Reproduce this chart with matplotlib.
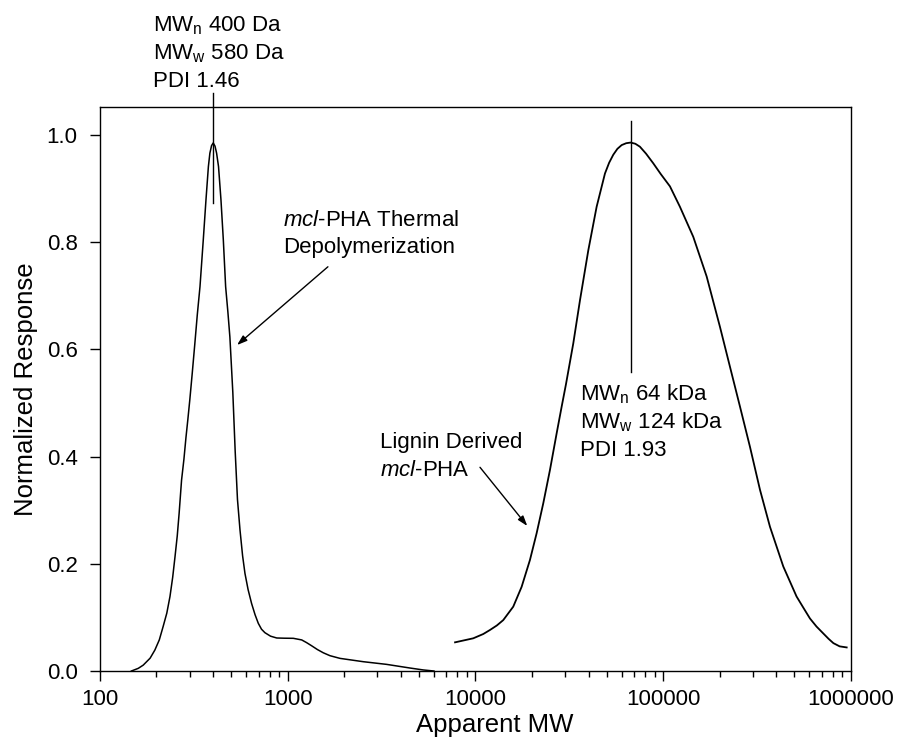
import matplotlib
matplotlib.use("Agg")
import matplotlib.pyplot as plt
from matplotlib.ticker import FixedLocator, LogLocator, NullFormatter, FuncFormatter

plt.rcParams['font.family'] = ['Liberation Sans', 'DejaVu Sans']
plt.rcParams['mathtext.fontset'] = 'custom'
plt.rcParams['mathtext.rm'] = 'Liberation Sans'
plt.rcParams['mathtext.it'] = 'Liberation Sans:italic'
plt.rcParams['mathtext.bf'] = 'Liberation Sans:bold'

# thermal depolymerization product (low MW peak)
depoly_mw = [147, 160, 170, 185, 196, 207, 217, 227, 236, 244, 251, 258, 264, 272,
             280, 287, 294, 301, 310, 320, 330, 341, 355, 367, 378, 385, 393, 401,
             410, 418, 428, 441, 454, 467, 480, 492, 510, 525, 540, 557, 575, 592,
             615, 642, 670, 697, 725, 756, 810, 874, 960, 1071, 1187, 1260, 1342,
             1440, 1547, 1679, 1898, 2524, 3362, 4477, 5270, 6010]
depoly_resp = [0.0, 0.005, 0.011, 0.024, 0.039, 0.058, 0.083, 0.108, 0.139, 0.175,
               0.213, 0.252, 0.294, 0.356, 0.395, 0.435, 0.47, 0.506, 0.555, 0.61,
               0.665, 0.717, 0.804, 0.879, 0.941, 0.966, 0.98, 0.985, 0.979, 0.966,
               0.941, 0.879, 0.804, 0.717, 0.67, 0.623, 0.52, 0.41, 0.32, 0.263,
               0.215, 0.182, 0.152, 0.126, 0.105, 0.089, 0.078, 0.0715, 0.065, 0.0616,
               0.0612, 0.061, 0.058, 0.053, 0.047, 0.040, 0.034, 0.0286, 0.0236,
               0.0174, 0.0124, 0.0056, 0.002, 0.0]

# lignin derived mcl-PHA (high MW peak)
lignin_mw = [7785, 9730, 11000, 11940, 13000, 14060, 15890, 17610, 19500, 21170,
             22970, 24930, 27050, 28770, 30340, 33180, 36040, 39910, 44190, 48940,
             51500, 54190, 57000, 60060, 63500, 67000, 71000, 75120, 81000, 88500,
             97000, 108600, 122700, 144500, 170300, 200500, 226500, 256400, 289800,
             327600, 370300, 435900, 513000, 560000, 604600, 655000, 712300, 760000,
             805800, 870000, 948600]
lignin_resp = [0.0535, 0.061, 0.069, 0.0765, 0.085, 0.095, 0.12, 0.157, 0.207, 0.257,
               0.313, 0.375, 0.443, 0.493, 0.535, 0.611, 0.692, 0.785, 0.866, 0.928,
               0.948, 0.963, 0.974, 0.981, 0.9845, 0.9857, 0.9835, 0.978, 0.965, 0.947,
               0.927, 0.904, 0.866, 0.810, 0.736, 0.642, 0.568, 0.493, 0.418,
               0.338, 0.269, 0.195, 0.139, 0.117, 0.098, 0.083, 0.070, 0.060,
               0.052, 0.046, 0.044]

# peak marker lines
marker_x = [400, 67000]
marker_ymin = [0.873, 0.558]
marker_ymax = [1.078, 1.025]

x_ticks = [100, 1000, 10000, 100000, 1000000]
y_ticks = [0.0, 0.2, 0.4, 0.6, 0.8, 1.0]

fig = plt.figure(figsize=(9.03, 7.51), dpi=100)
ax = fig.add_axes([0.1107, 0.1065, 0.8317, 0.751])

ax.plot(depoly_mw, depoly_resp, color='black', lw=1.1)
ax.plot(lignin_mw, lignin_resp, color='black', lw=1.3)
for mx, y0, y1 in zip(marker_x, marker_ymin, marker_ymax):
    ax.plot([mx, mx], [y0, y1], color='black', lw=1.0, clip_on=False)

ax.set_xscale('log')
ax.set_xlim(100, 1000000)
ax.set_ylim(0, 1.052)
ax.xaxis.set_major_locator(FixedLocator(x_ticks))
ax.xaxis.set_major_formatter(FuncFormatter(lambda v, p: '%d' % v))
ax.xaxis.set_minor_locator(LogLocator(base=10, subs=range(2, 10)))
ax.xaxis.set_minor_formatter(NullFormatter())
ax.set_yticks(y_ticks)
ax.yaxis.set_major_formatter(FuncFormatter(lambda v, p: '%.1f' % v))

ax.tick_params(axis='both', which='major', direction='out', length=7, width=1,
               labelsize=16, color='black')
ax.tick_params(axis='x', which='major', pad=6)
ax.tick_params(axis='y', which='major', pad=9)
ax.tick_params(axis='x', which='minor', direction='out', length=4, width=1)
ax.tick_params(axis='y', which='minor', left=False)
for sp in ax.spines.values():
    sp.set_linewidth(1.0)

ax.set_xlabel('Apparent MW', fontsize=18.5, labelpad=6)
ax.set_ylabel('Normalized Response', fontsize=18.5, labelpad=6)
ax.xaxis.set_label_coords(0.525, -0.075)

fs = 16
step = 0.0522
left_lines = [r'MW$_\mathrm{n}$ 400 Da', r'MW$_\mathrm{w}$ 580 Da', 'PDI 1.46']
for i, s in enumerate(left_lines):
    ax.text(191, 1.193 - i * step, s, fontsize=fs, va='baseline', ha='left', clip_on=False)

right_lines = [r'MW$_\mathrm{n}$ 64 kDa', r'MW$_\mathrm{w}$ 124 kDa', 'PDI 1.93']
for i, s in enumerate(right_lines):
    ax.text(36060, 0.5056 - i * step, s, fontsize=fs, va='baseline', ha='left')

thermal_lines = [r'$\mathit{mcl}$-PHA Thermal', 'Depolymerization']
for i, s in enumerate(thermal_lines):
    ax.text(944, 0.831 - i * step, s, fontsize=fs, va='baseline', ha='left')

lignin_lines = ['Lignin Derived', r'$\mathit{mcl}$-PHA']
for i, s in enumerate(lignin_lines):
    ax.text(3097, 0.416 - i * step, s, fontsize=fs, va='baseline', ha='left')

arrow = dict(arrowstyle='-|>,head_length=0.6,head_width=0.2', color='black', lw=1.0,
             shrinkA=0, shrinkB=0)
ax.annotate('', xy=(537, 0.608), xytext=(1637, 0.754), arrowprops=arrow)
ax.annotate('', xy=(18880, 0.2705), xytext=(10570, 0.380), arrowprops=arrow)

fig.savefig('out.png', dpi=100)
